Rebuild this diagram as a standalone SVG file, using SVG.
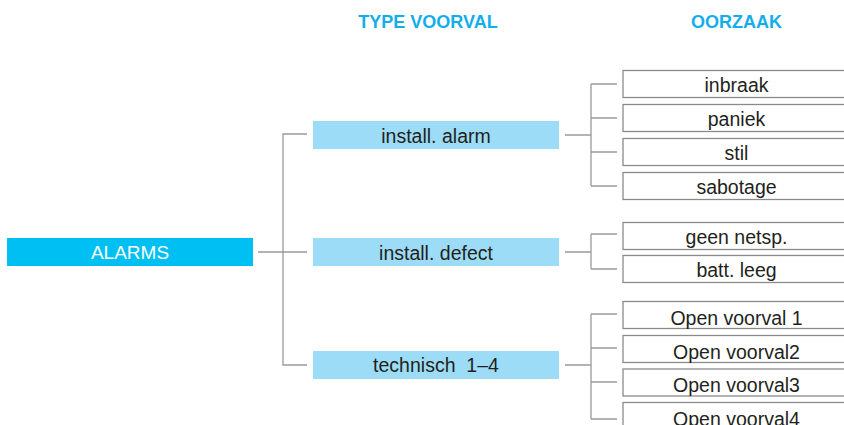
<svg xmlns="http://www.w3.org/2000/svg" width="844" height="425" viewBox="0 0 844 425">
<style>
.hdr{font-family:"Liberation Sans",Arial,sans-serif;font-weight:bold;font-size:18px;fill:#13AEEA;text-anchor:middle}
.t{font-family:"Liberation Sans",Arial,sans-serif;font-size:19.5px;fill:#231F20;text-anchor:middle}
.w{font-family:"Liberation Sans",Arial,sans-serif;font-size:19px;fill:#FFFFFF;text-anchor:middle}
.root{fill:#00BFF2}
.mid{fill:#9DDCF7}
.leaf{fill:#FFFFFF;stroke:#8A8A8A;stroke-width:1.3}
.c{fill:none;stroke:#9A9A9A;stroke-width:1.3}
</style>
<rect width="844" height="425" fill="#FFFFFF"/>
<text class="hdr" x="428" y="28">TYPE VOORVAL</text>
<text class="hdr" x="736.5" y="28">OORZAAK</text>
<g id="connectors">
<path class="c" d="M258 252H307M307 134H283V365H307"/>
<path class="c" d="M565 135H591M591 84V186M591 84H617M591 118H617M591 152H617M591 186H617"/>
<path class="c" d="M565 252H591M591 234V269M591 234H617M591 269H617"/>
<path class="c" d="M565 365H591M591 314V419M591 314H617M591 348H617M591 382H617M591 419H617"/>
</g>
<g id="alarms"><rect class="root" x="7" y="238" width="246" height="28"/><text class="w" x="130" y="259">ALARMS</text></g>
<g id="install-alarm"><rect class="mid" x="313" y="121" width="246" height="28"/><text class="t" x="436" y="143.3">install. alarm</text></g>
<g id="install-defect"><rect class="mid" x="313" y="238" width="246" height="28"/><text class="t" x="436" y="260.3">install. defect</text></g>
<g id="technisch"><rect class="mid" x="313" y="351" width="246" height="28"/><text class="t" x="436" y="372">technisch&#160; 1–4</text></g>
<g id="inbraak"><rect class="leaf" x="623" y="70.5" width="230" height="27"/><text class="t" x="736.5" y="91.7">inbraak</text></g>
<g id="paniek"><rect class="leaf" x="623" y="104.5" width="230" height="27"/><text class="t" x="736.5" y="125.7">paniek</text></g>
<g id="stil"><rect class="leaf" x="623" y="138.5" width="230" height="27"/><text class="t" x="736.5" y="159.7">stil</text></g>
<g id="sabotage"><rect class="leaf" x="623" y="172.5" width="230" height="27"/><text class="t" x="736.5" y="193.7">sabotage</text></g>
<g id="geen-netsp"><rect class="leaf" x="623" y="222.5" width="230" height="27"/><text class="t" x="736.5" y="243.7">geen netsp.</text></g>
<g id="batt-leeg"><rect class="leaf" x="623" y="255.5" width="230" height="27"/><text class="t" x="736.5" y="276.7">batt. leeg</text></g>
<g id="open1"><rect class="leaf" x="623" y="301.5" width="230" height="27"/><text class="t" x="736.5" y="324.5">Open voorval 1</text></g>
<g id="open2"><rect class="leaf" x="623" y="335.5" width="230" height="27"/><text class="t" x="736.5" y="358.5">Open voorval2</text></g>
<g id="open3"><rect class="leaf" x="623" y="369" width="230" height="27"/><text class="t" x="736.5" y="392">Open voorval3</text></g>
<g id="open4"><rect class="leaf" x="623" y="402.5" width="230" height="27"/><text class="t" x="736.5" y="425.5">Open voorval4</text></g>
</svg>
